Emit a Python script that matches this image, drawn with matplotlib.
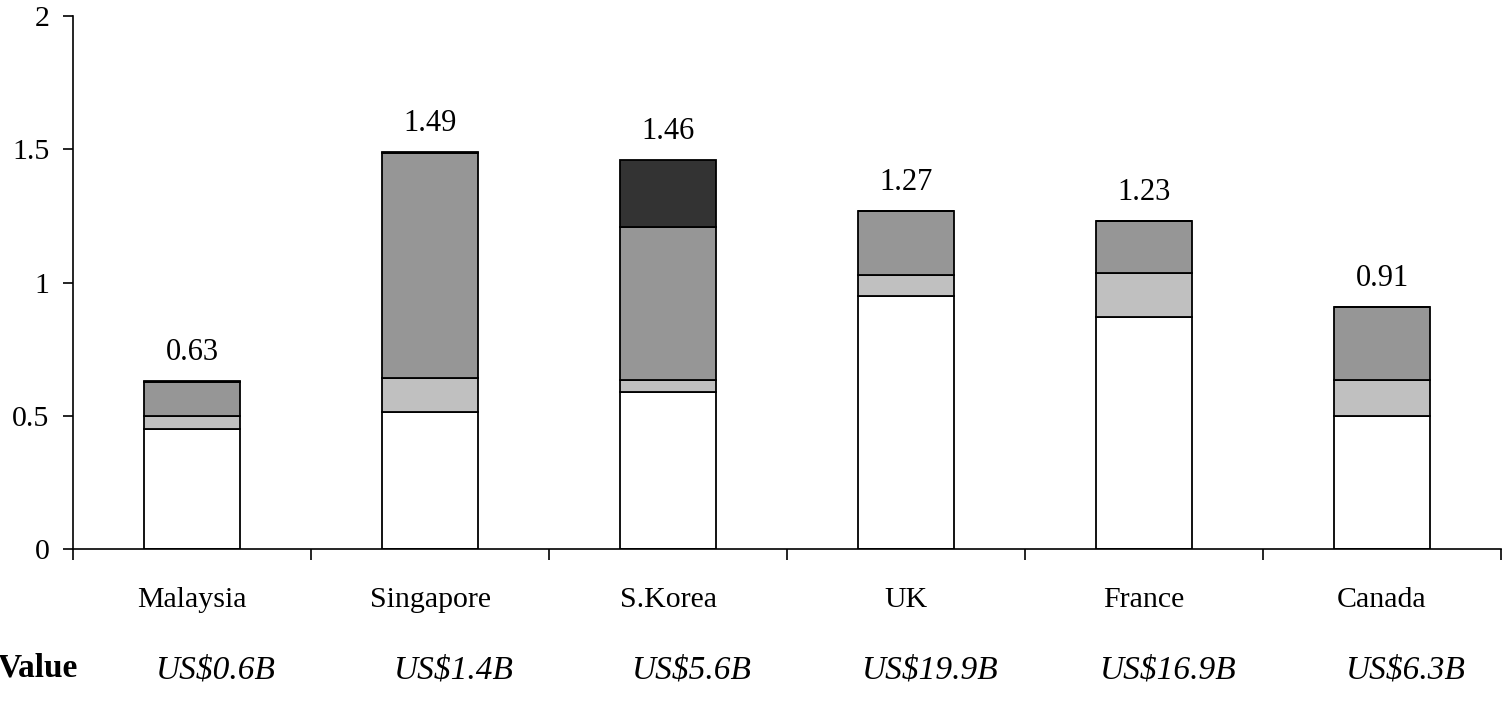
import numpy as np
import matplotlib.pyplot as plt

plt.rcParams['font.family'] = ['Liberation Serif', 'DejaVu Serif']

countries = ["Malaysia", "Singapore", "S.Korea", "UK", "France", "Canada"]
totals = [0.63, 1.49, 1.46, 1.27, 1.23, 0.91]
values = ["US$0.6B", "US$1.4B", "US$5.6B", "US$19.9B", "US$16.9B", "US$6.3B"]

# stacked components, bottom to top
seg_white = [0.45, 0.515, 0.59, 0.95, 0.87, 0.50]
seg_light = [0.05, 0.125, 0.045, 0.08, 0.165, 0.135]
seg_mid = [0.125, 0.845, 0.575, 0.24, 0.195, 0.275]
seg_dark = [0.005, 0.005, 0.25, 0.0, 0.0, 0.0]

colors = ["#FFFFFF", "#C0C0C0", "#969696", "#333333"]

fig = plt.figure(figsize=(15.06, 7.11), dpi=100)
ax = fig.add_axes([0.0485, 0.2278, 0.9482, 0.7497])

x = np.arange(len(countries))
bottom = np.zeros(len(countries))
for seg, c in zip([seg_white, seg_light, seg_mid, seg_dark], colors):
    seg = np.array(seg)
    ax.bar(x, seg, 0.4, bottom=bottom, color=c, edgecolor="black", linewidth=1.3)
    bottom += seg

for xi, top, t in zip(x, bottom, totals):
    ax.annotate("%.2f" % t, (xi, top), xytext=(0, 10), textcoords="offset points",
                ha="center", va="bottom", fontsize=22)

ax.set_xlim(-0.5, len(countries) - 0.5)
ax.set_ylim(0, 2)
ax.set_yticks([0, 0.5, 1, 1.5, 2])
ax.set_yticklabels(["0", "0.5", "1", "1.5", "2"])
ax.set_xticks(x)
ax.set_xticklabels(countries)
ax.set_xticks(np.arange(-0.5, len(countries)), minor=True)
ax.tick_params(axis="x", which="major", length=0, pad=27, labelsize=21.5)
ax.tick_params(axis="x", which="minor", length=8, width=1.2, direction="out")
ax.tick_params(axis="y", length=7, width=1.2, direction="out", pad=10, labelsize=21.5)
ax.spines["top"].set_visible(False)
ax.spines["right"].set_visible(False)
ax.spines["left"].set_linewidth(1.2)
ax.spines["bottom"].set_linewidth(1.2)

# deal values row under the country names
for xi, v in zip(x, values):
    ax.text(xi + 0.1, -0.455, v, ha="center", va="center", fontsize=24, style="italic")
fig.text(78 / 1506, 1 - 668 / 711, "Value", ha="right", va="center",
         fontsize=24, fontweight="bold")

fig.savefig("out.png", dpi=100)
